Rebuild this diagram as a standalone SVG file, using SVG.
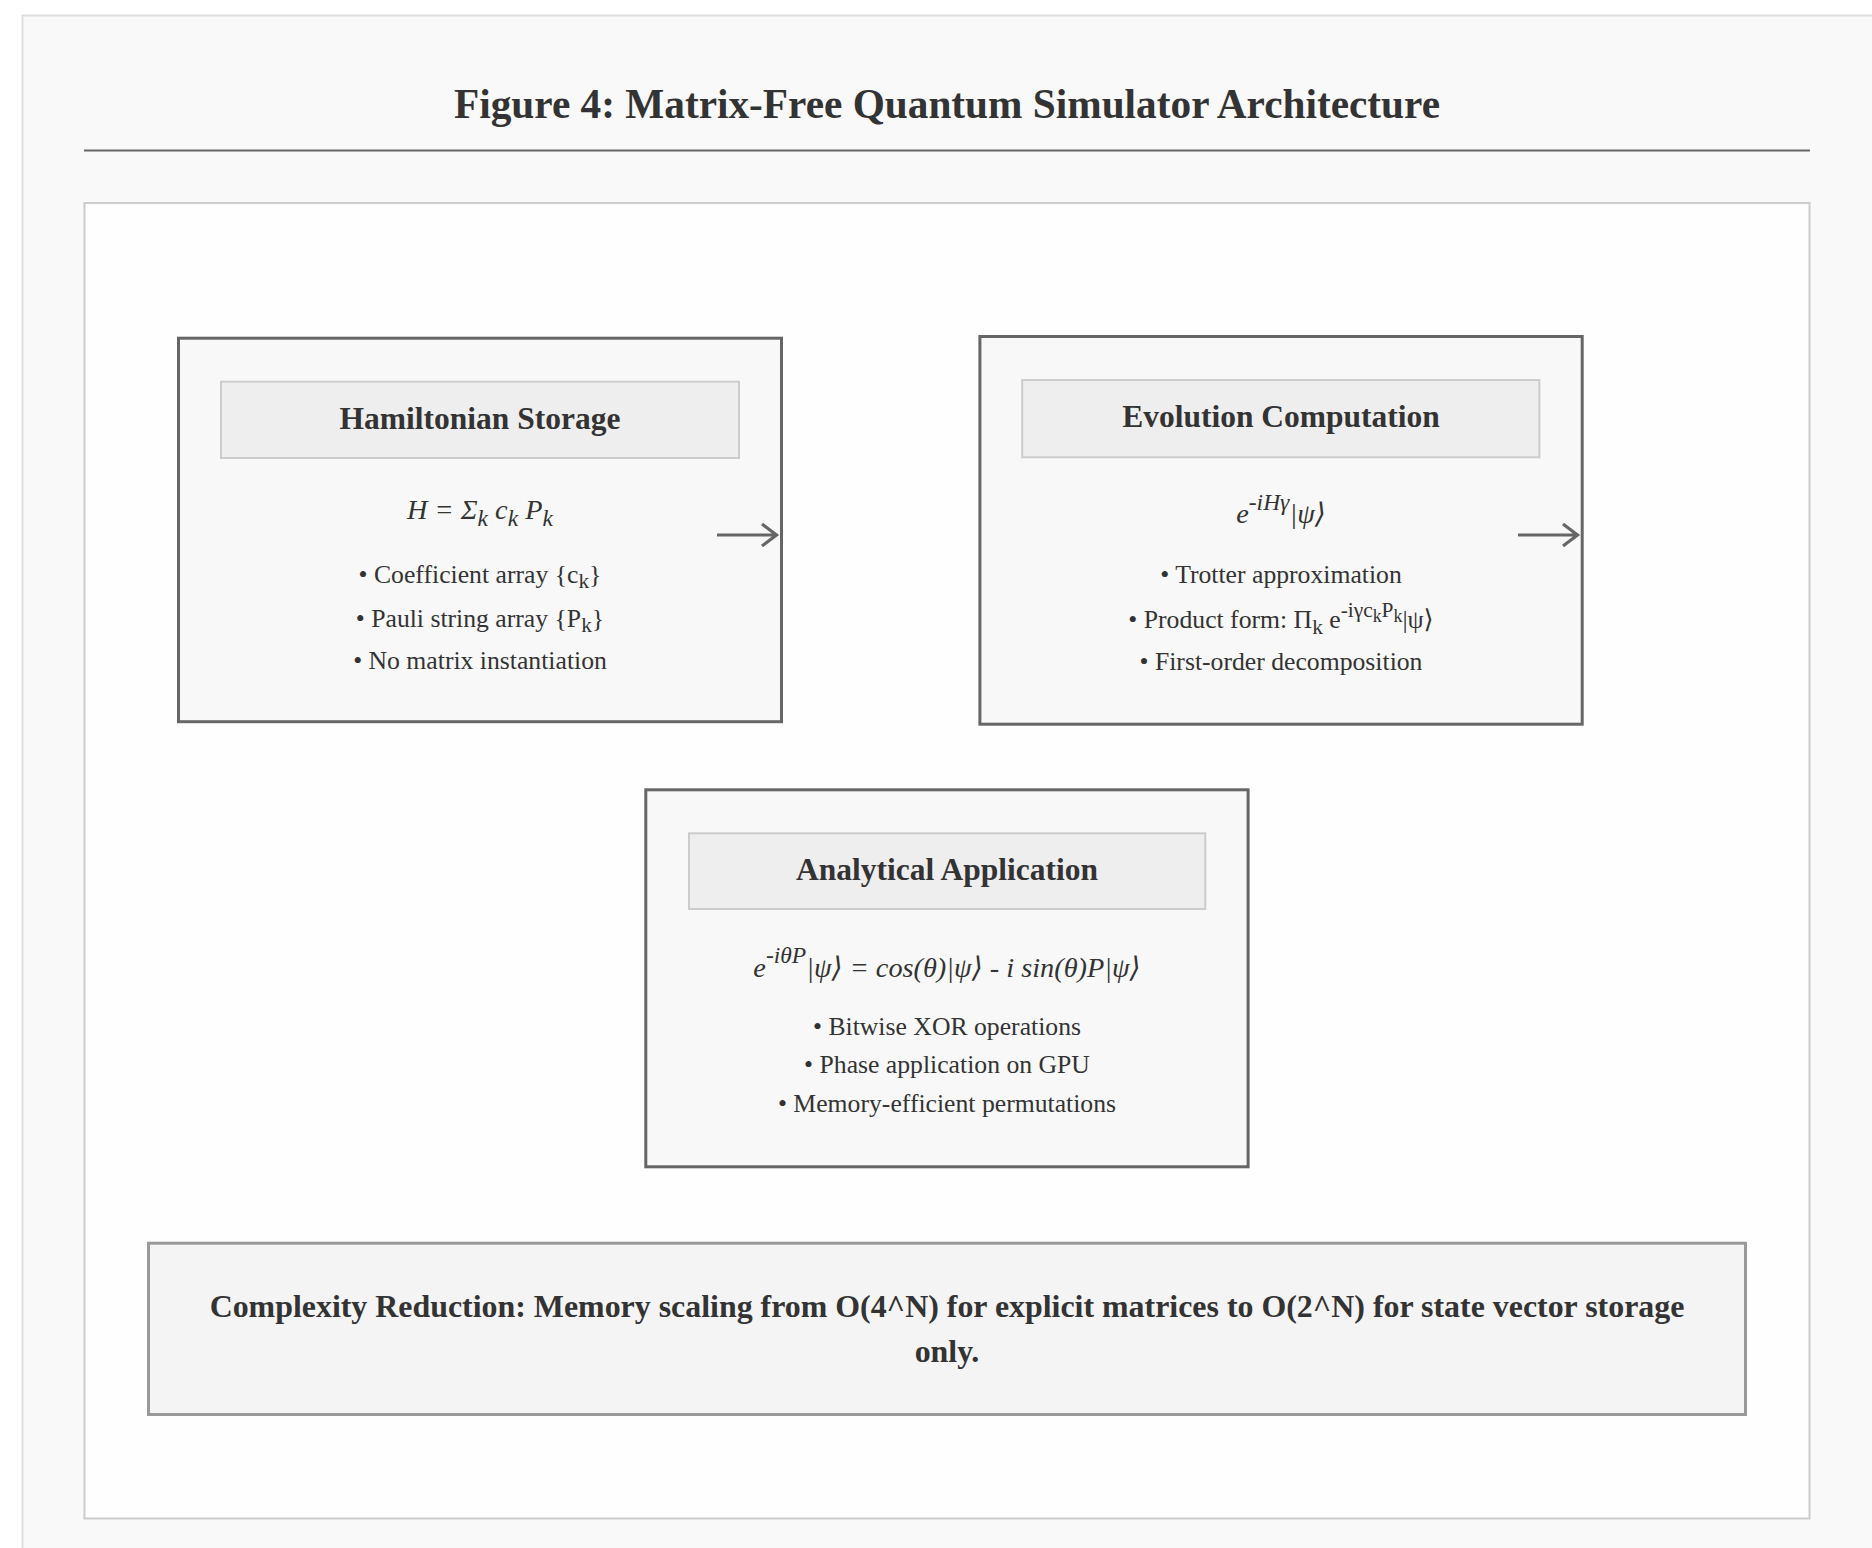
<svg xmlns="http://www.w3.org/2000/svg" width="1872" height="1548" viewBox="0 0 1872 1548">
  <style>
    text { font-family: "Liberation Serif", "Times New Roman", "DejaVu Serif", serif; fill: #333; text-anchor: middle; }
    .title { font-size: 41.3px; font-weight: bold; }
    .hdr { font-size: 31.5px; font-weight: bold; }
    .fx { font-size: 28.3px; font-style: italic; }
    .bl { font-size: 25.7px; }
    .bt { font-size: 31.9px; font-weight: bold; }
    .sub { font-size: 21.4px; }
    .ss { font-size: 17.8px; }
    .fsub { font-size: 23.5px; }
    .node { fill: #f8f8f8; stroke: #666; stroke-width: 3; }
    .head { fill: #eeeeee; stroke: #cccccc; stroke-width: 2; }
    .arrow { fill: none; stroke: #666; stroke-width: 3.2; stroke-linejoin: miter; }
  </style>

  <rect x="0" y="0" width="1872" height="1548" fill="#ffffff"/>
  <g id="frame">
    <rect x="22.5" y="15.5" width="1900" height="1600" fill="#f9f9f9" stroke="#dddddd" stroke-width="2"/>
    <text class="title" x="947" y="118">Figure 4: Matrix-Free Quantum Simulator Architecture</text>
    <line x1="84" y1="150.5" x2="1810" y2="150.5" stroke="#666" stroke-width="2"/>
    <rect x="84.5" y="203" width="1725" height="1315.5" fill="#fefefe" stroke="#cccccc" stroke-width="2"/>
  </g>

  <g id="node-hamiltonian">
    <rect class="node" x="178.5" y="338.2" width="603" height="383.5"/>
    <rect class="head" x="221" y="381.7" width="518" height="76.3"/>
    <text class="hdr" x="480" y="429">Hamiltonian Storage</text>
    <text class="fx" x="480" y="519">H = Σ<tspan class="fsub" dy="7">k</tspan><tspan dy="-7"> c</tspan><tspan class="fsub" dy="7">k</tspan><tspan dy="-7"> P</tspan><tspan class="fsub" dy="7">k</tspan></text>
    <text class="bl" x="480" y="583">• Coefficient array {c<tspan class="sub" dy="5">k</tspan><tspan dy="-5">}</tspan></text>
    <text class="bl" x="480" y="627">• Pauli string array {P<tspan class="sub" dy="5">k</tspan><tspan dy="-5">}</tspan></text>
    <text class="bl" x="480" y="669">• No matrix instantiation</text>
  </g>

  <g id="node-evolution">
    <rect class="node" x="979.9" y="336.5" width="602.3" height="387.7"/>
    <rect class="head" x="1022.2" y="380" width="517.2" height="77.3"/>
    <text class="hdr" x="1281" y="427.3">Evolution Computation</text>
    <text class="fx" x="1281" y="523.3">e<tspan class="fsub" dy="-13.5">-iHγ</tspan><tspan dy="13.5">|ψ⟩</tspan></text>
    <text class="bl" x="1281" y="583.3">• Trotter approximation</text>
    <text class="bl" x="1281" y="628.3">• Product form: Π<tspan class="sub" dy="6">k</tspan><tspan dy="-6"> e</tspan><tspan class="sub" dy="-11">-iγc</tspan><tspan class="ss" dy="5">k</tspan><tspan class="sub" dy="-5">P</tspan><tspan class="ss" dy="5">k</tspan><tspan dy="6">|ψ⟩</tspan></text>
    <text class="bl" x="1281" y="670">• First-order decomposition</text>
  </g>

  <g id="node-analytical">
    <rect class="node" x="645.8" y="789.8" width="602.3" height="377"/>
    <rect class="head" x="689" y="833.3" width="516.3" height="75.7"/>
    <text class="hdr" x="947" y="880">Analytical Application</text>
    <text class="fx" x="947" y="976.7">e<tspan class="fsub" dy="-13.5">-iθP</tspan><tspan dy="13.5">|ψ⟩ = cos(θ)|ψ⟩ - i sin(θ)P|ψ⟩</tspan></text>
    <text class="bl" x="947" y="1035">• Bitwise XOR operations</text>
    <text class="bl" x="947" y="1073">• Phase application on GPU</text>
    <text class="bl" x="947" y="1111.7">• Memory-efficient permutations</text>
  </g>

  <g id="node-complexity">
    <rect x="148.5" y="1243.2" width="1597" height="171.3" fill="#f4f4f4" stroke="#999999" stroke-width="3"/>
    <text class="bt" x="947" y="1316.7">Complexity Reduction: Memory scaling from O(4^N) for explicit matrices to O(2^N) for state vector storage</text>
    <text class="bt" x="947" y="1361.7">only.</text>
  </g>

  <g id="connectors">
    <path class="arrow" d="M717,535 H775 M762,524 L776.5,535 L762,546"/>
    <path class="arrow" d="M1518,535 H1576 M1563,524 L1577.5,535 L1563,546"/>
  </g>
</svg>
